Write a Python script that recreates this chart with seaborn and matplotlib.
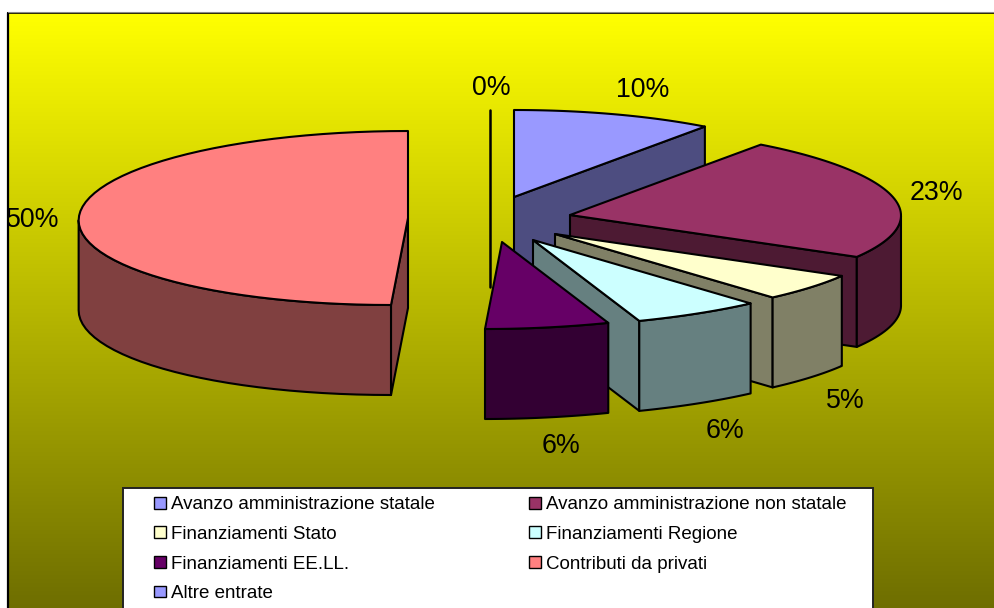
import numpy as np
import matplotlib
matplotlib.use('Agg')
import matplotlib.pyplot as plt
from matplotlib.patches import Polygon, Patch, Rectangle
import seaborn as sns

# Values
labels = ['Avanzo amministrazione statale', 'Avanzo amministrazione non statale',
          'Finanziamenti Stato', 'Finanziamenti Regione',
          'Finanziamenti EE.LL.', 'Contributi da privati', 'Altre entrate']
values = [10, 23, 5, 6, 6, 50, 0]
pct_labels = ['10%', '23%', '5%', '6%', '6%', '50%', '0%']
hex_colors = ['#9999FF', '#993366', '#FFFFCC', '#CCFFFF', '#660066', '#FF8080', '#9999FF']

# Exploded slice centres and label spots, in pixels
apex_x = [514, 570, 555, 533, 502, 408, 490]
apex_y = [197, 215, 234, 240, 242, 218, 197]
label_x = [643, 936, 845, 725, 561, 33, 491]
label_y = [90, 193, 401, 431, 446, 220, 88]

W, H = 995, 608
RX, RY = 325, 87
DEPTH = 90
SKEW = 17
BULGE = 12

sns.set_theme(style='white')
plt.rcParams['font.family'] = ['Liberation Sans', 'DejaVu Sans']
palette = sns.color_palette(hex_colors)
dark = [tuple(c * 0.5 for c in col) for col in palette]

fig = plt.figure(figsize=(W / 100, H / 100), dpi=100, facecolor='white')
ax = fig.add_axes([0, 0, 1, 1])

# yellow to olive background, the frame runs off the right and bottom
grad = np.linspace(1.0, 0.43, 300).reshape(-1, 1)
bg = np.dstack([grad, grad, np.zeros_like(grad)])
ax.imshow(bg, extent=[8, W + 10, H + 2, 13], aspect='auto', zorder=0)
ax.set_xlim(0, W)
ax.set_ylim(H, 0)
ax.axis('off')
ax.plot([8, 8], [H, 13], color='black', lw=1.6, zorder=1)
ax.plot([8, W], [13, 13], color='black', lw=1.2, zorder=1)
ax.plot([8, W], [12, 12], color='#888888', lw=0.8, zorder=1)


def rim(cx, cy, t):
    # point on the tilted rim, t in radians clockwise from the top
    s = ((1 - np.cos(t)) / 2) ** 2
    # the near right side looks wider in the original perspective
    u = np.clip((t - np.radians(36)) / np.radians(144), 0, 1) * np.pi
    return cx + RX * np.sin(t) - SKEW * s + BULGE * np.sin(u) ** 2, cy - RY * np.cos(t)


def face(pts, color, z):
    ax.add_patch(Polygon(pts, closed=True, fc=color, ec='black', lw=1.5,
                         joinstyle='round', zorder=z))


edges = np.cumsum([0] + values) / 100 * 2 * np.pi
for i in [6, 0, 1, 2, 3, 4, 5]:
    cx, cy = apex_x[i], apex_y[i]
    z = 3 + i
    if values[i] == 0:
        ax.plot([cx, cx], [cy - RY, cy + DEPTH], color='black', lw=1.8, zorder=2)
        continue
    t = np.linspace(edges[i], edges[i + 1], 60)
    x, y = rim(cx, cy, t)
    top = np.column_stack([np.r_[cx, x], np.r_[cy, y]])

    # cut face on the end edge for slices facing the viewer
    if edges[i + 1] <= np.pi * 0.9:
        face([(cx, cy), (x[-1], y[-1]), (x[-1], y[-1] + DEPTH), (cx, cy + DEPTH)], dark[i], z)
    if i == 5:
        # right cut face of the big slice
        x0, y0 = rim(cx, cy, edges[i])
        face([(cx, cy), (x0, y0), (x0, y0 + DEPTH), (cx, cy + DEPTH)], dark[i], z)

    # outer wall, only the part below the widest point shows
    front = (np.cos(t) < 0) | (np.abs(t - np.pi / 2) < 0.01)
    fx, fy = x[front], y[front]
    if len(fx) > 1:
        wall = np.r_[np.column_stack([fx, fy]),
                     np.column_stack([fx[::-1], fy[::-1] + DEPTH])]
        face(wall, dark[i], z)
    face(top, palette[i], z + 0.5)

for i in range(len(values)):
    ax.text(label_x[i], label_y[i], pct_labels[i], fontsize=19.3, color='black',
            ha='center', va='center', zorder=20)

# legend box runs off the bottom of the picture
ax.add_patch(Rectangle((123, 488), 750, 140, fc='white', ec='#222222', lw=1.4, zorder=15))
handles = [Patch(fc=palette[i], ec='black', lw=1.0, label=labels[i]) for i in range(len(labels))]
# fill across rows: 4 rows in col 1, 3 in col 2
order = [0, 2, 4, 6, 1, 3, 5]
leg = ax.legend([handles[i] for i in order], [labels[i] for i in order], ncol=2,
                loc='upper left', bbox_to_anchor=(146 / W, 1 - 488 / H),
                bbox_transform=ax.transAxes, frameon=False, fontsize=13.5,
                labelcolor='black', handlelength=0.6, handleheight=0.6, handletextpad=0.27,
                columnspacing=5.05, labelspacing=0.67, borderpad=0.45, borderaxespad=0)
leg.set_zorder(16)

fig.savefig('out.png', dpi=100)
